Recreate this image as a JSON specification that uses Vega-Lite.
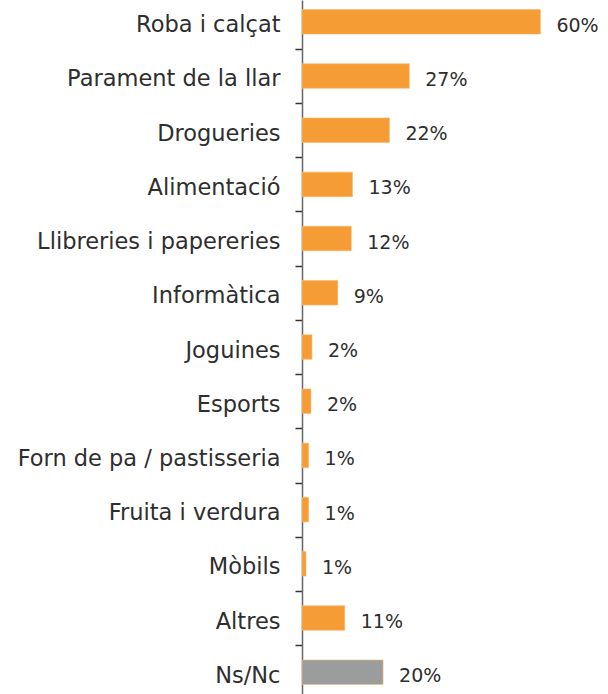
{
  "$schema": "https://vega.github.io/schema/vega-lite/v6.json",
  "width": 300,
  "height": 694,
  "autosize": {"type": "none"},
  "padding": {"left": 302, "top": 0, "right": 6, "bottom": 0},
  "background": "#ffffff",
  "config": {"view": {"stroke": null}, "font": "DejaVu Sans"},
  "data": {
    "values": [
      {"category": "Roba i calçat", "value": 60, "label": "60%", "group": "resposta"},
      {"category": "Parament de la llar", "value": 27, "label": "27%", "group": "resposta"},
      {"category": "Drogueries", "value": 22, "label": "22%", "group": "resposta"},
      {"category": "Alimentació", "value": 12.7, "label": "13%", "group": "resposta"},
      {"category": "Llibreries i papereries", "value": 12.4, "label": "12%", "group": "resposta"},
      {"category": "Informàtica", "value": 9, "label": "9%", "group": "resposta"},
      {"category": "Joguines", "value": 2.5, "label": "2%", "group": "resposta"},
      {"category": "Esports", "value": 2.25, "label": "2%", "group": "resposta"},
      {"category": "Forn de pa / pastisseria", "value": 1.65, "label": "1%", "group": "resposta"},
      {"category": "Fruita i verdura", "value": 1.65, "label": "1%", "group": "resposta"},
      {"category": "Mòbils", "value": 1, "label": "1%", "group": "resposta"},
      {"category": "Altres", "value": 10.75, "label": "11%", "group": "resposta"},
      {"category": "Ns/Nc", "value": 20.4, "label": "20%", "group": "nsnc"}
    ]
  },
  "encoding": {
    "y": {
      "field": "category",
      "type": "nominal",
      "sort": null,
      "scale": {"paddingInner": 0.548, "paddingOuter": 0.176},
      "axis": {
        "title": null,
        "domainColor": "#666666",
        "domainWidth": 1.5,
        "tickColor": "#333333",
        "tickWidth": 1.5,
        "tickSize": 7,
        "tickOffset": 27.1,
        "labelOffset": -24.1,
        "labelPadding": 15,
        "labelFontSize": 22.5,
        "labelColor": "#2e2e2e",
        "labelLimit": 400,
        "labelFont": "DejaVu Sans"
      }
    },
    "x": {
      "field": "value",
      "type": "quantitative",
      "scale": {"domain": [0, 75.5]},
      "axis": null
    }
  },
  "layer": [
    {
      "mark": {"type": "bar", "stroke": "#f7b772", "strokeWidth": 0.6},
      "encoding": {
        "color": {
          "field": "group",
          "type": "nominal",
          "scale": {"domain": ["resposta", "nsnc"], "range": ["#f69c35", "#9b9d9d"]},
          "legend": null
        }
      }
    },
    {
      "mark": {"type": "text", "align": "left", "baseline": "middle", "dx": 16, "dy": 4, "fontSize": 19, "color": "#2e2e2e", "font": "DejaVu Sans"},
      "encoding": {"text": {"field": "label"}}
    }
  ]
}
